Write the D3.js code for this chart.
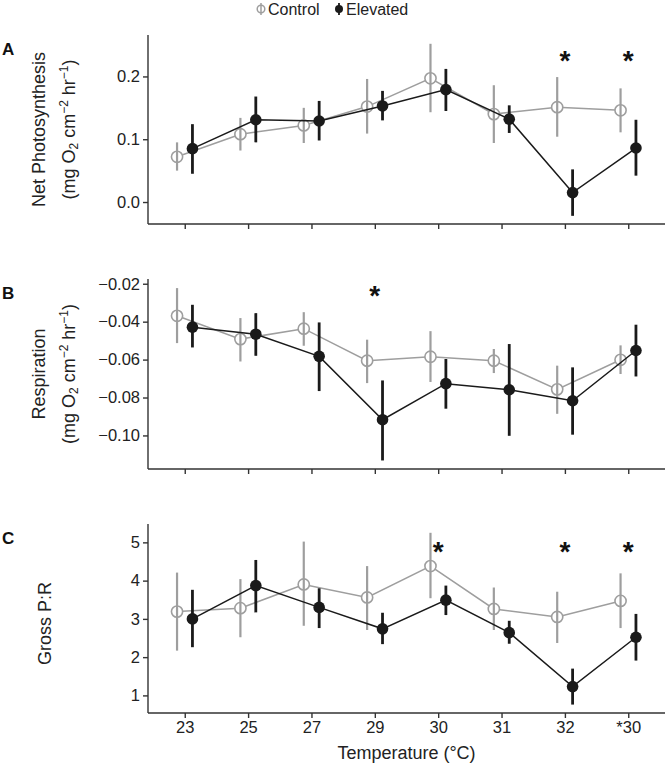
<!DOCTYPE html>
<html>
<head>
<meta charset="utf-8">
<script src="https://cdn.jsdelivr.net/npm/d3@7"></script>
<style>
  html, body { margin: 0; padding: 0; background: #fff; }
  svg { display: block; font-family: "Liberation Sans", Arial, sans-serif; }
</style>
</head>
<body>
<svg id="chart" width="667" height="763"></svg>
<script>
// ---------- data ----------
const categories = ["23", "25", "27", "29", "30", "31", "32", "*30"];
const seriesNames = ["Control", "Elevated"];

// Panel A: Net photosynthesis
const netPhotoControl     = [0.072, 0.108, 0.122, 0.152, 0.197, 0.140, 0.151, 0.146];
const netPhotoControlLo   = [0.050, 0.082, 0.094, 0.109, 0.143, 0.094, 0.104, 0.111];
const netPhotoControlHi   = [0.095, 0.134, 0.150, 0.196, 0.252, 0.186, 0.199, 0.181];
const netPhotoElevated    = [0.085, 0.131, 0.129, 0.153, 0.179, 0.132, 0.015, 0.086];
const netPhotoElevatedLo  = [0.045, 0.095, 0.098, 0.130, 0.145, 0.110, -0.022, 0.042];
const netPhotoElevatedHi  = [0.124, 0.168, 0.161, 0.177, 0.212, 0.154, 0.052, 0.131];
const netPhotoStars       = ["32", "*30"];
const netPhotoStarY       = 0.234;
const netPhotoTicks       = [0.0, 0.1, 0.2];

// Panel B: Respiration
const respControl     = [-0.0369, -0.0492, -0.0437, -0.0606, -0.0585, -0.0606, -0.0757, -0.0601];
const respControlLo   = [-0.0513, -0.0610, -0.0527, -0.0724, -0.0718, -0.0671, -0.0886, -0.0676];
const respControlHi   = [-0.0223, -0.0381, -0.0350, -0.0495, -0.0450, -0.0544, -0.0632, -0.0525];
const respElevated    = [-0.0429, -0.0466, -0.0583, -0.0917, -0.0727, -0.0759, -0.0817, -0.0552];
const respElevatedLo  = [-0.0536, -0.0580, -0.0766, -0.1132, -0.0859, -0.1002, -0.0996, -0.0689];
const respElevatedHi  = [-0.0311, -0.0355, -0.0404, -0.0710, -0.0597, -0.0518, -0.0641, -0.0416];
const respStars       = ["29"];
const respStarY       = -0.0232;
const respTicks       = [-0.10, -0.08, -0.06, -0.04, -0.02];

// Panel C: Gross P:R
const prControl     = [3.19, 3.28, 3.90, 3.56, 4.38, 3.26, 3.05, 3.47];
const prControlLo   = [2.17, 2.52, 2.82, 2.71, 3.54, 2.71, 2.37, 2.76];
const prControlHi   = [4.21, 4.04, 5.02, 4.38, 5.25, 3.82, 3.71, 4.19];
const prElevated    = [3.00, 3.87, 3.30, 2.74, 3.49, 2.64, 1.23, 2.52];
const prElevatedLo  = [2.26, 3.17, 2.76, 2.34, 3.10, 2.35, 0.76, 1.91];
const prElevatedHi  = [3.76, 4.54, 3.80, 3.16, 3.87, 2.95, 1.70, 3.13];
const prStars       = ["30", "32", "*30"];
const prStarY       = 4.90;
const prTicks       = [1, 2, 3, 4, 5];

const xAxisTitle = "Temperature (°C)";

// ---------- layout ----------
const svg = d3.select("#chart");
const left = 148, right = 665;
const colors = { Control: "#9e9e9e", Elevated: "#1a1a1a" };
const dodge = 7.7;

const x = d3.scalePoint().domain(categories).range([left, right]).padding(0.58);

const panels = [
  { letter: "A", top: 35, bottom: 224, domain: [-0.035, 0.266], ticks: netPhotoTicks, fmt: d3.format(".1f"),
    title: ["Net Photosynthesis", "unit"], ctrl: [netPhotoControl, netPhotoControlLo, netPhotoControlHi],
    elev: [netPhotoElevated, netPhotoElevatedLo, netPhotoElevatedHi], stars: netPhotoStars, starY: netPhotoStarY, xLabels: false },
  { letter: "B", top: 279, bottom: 469, domain: [-0.1177, -0.0175], ticks: respTicks, fmt: d3.format(".2f"),
    title: ["Respiration", "unit"], ctrl: [respControl, respControlLo, respControlHi],
    elev: [respElevated, respElevatedLo, respElevatedHi], stars: respStars, starY: respStarY, xLabels: false },
  { letter: "C", top: 524, bottom: 713, domain: [0.54, 5.48], ticks: prTicks, fmt: d3.format("d"),
    title: ["Gross P:R"], ctrl: [prControl, prControlLo, prControlHi],
    elev: [prElevated, prElevatedLo, prElevatedHi], stars: prStars, starY: prStarY, xLabels: true }
];

const fontSize = 16.5;

panels.forEach(p => {
  const y = d3.scaleLinear().domain(p.domain).range([p.bottom, p.top]);
  const g = svg.append("g");

  // axes
  const yAxis = d3.axisLeft(y).tickValues(p.ticks).tickFormat(p.fmt).tickSize(5).tickSizeOuter(0).tickPadding(3);
  const ya = g.append("g").attr("transform", `translate(${left},0)`).call(yAxis);
  const xAxis = d3.axisBottom(x).tickSize(5).tickSizeOuter(0).tickPadding(3);
  if (!p.xLabels) xAxis.tickFormat(() => "");
  const xa = g.append("g").attr("transform", `translate(0,${p.bottom})`).call(xAxis);
  [ya, xa].forEach(a => {
    a.selectAll("path.domain").attr("stroke", "#333").attr("stroke-width", 1.4);
    a.selectAll(".tick line").attr("stroke", "#333").attr("stroke-width", 1.4);
    a.selectAll(".tick text").attr("fill", "#222").style("font-size", fontSize + "px")
      .style("font-family", "'Liberation Sans', Arial, sans-serif");
  });
  // make y domain reach the x axis corner
  ya.select("path.domain").attr("d", `M0,${p.top}V${p.bottom}`);
  xa.select("path.domain").attr("d", `M${left},0H${right}`);

  // panel letter
  g.append("text").attr("x", 2).attr("y", p.top + 20).text(p.letter)
    .style("font-size", "17px").style("font-weight", "bold").attr("fill", "#111");

  // y titles
  const cy = (p.top + p.bottom) / 2;
  if (p.title.length === 2) {
    g.append("text").attr("transform", `translate(45,${cy}) rotate(-90)`).attr("text-anchor", "middle")
      .style("font-size", "18px").attr("fill", "#222").text(p.title[0]);
    const t = g.append("text").attr("transform", `translate(75,${cy}) rotate(-90)`).attr("text-anchor", "middle")
      .style("font-size", "18px").attr("fill", "#222");
    t.append("tspan").text("(mg O");
    t.append("tspan").attr("baseline-shift", "-25%").style("font-size", "12px").text("2");
    t.append("tspan").text(" cm");
    t.append("tspan").attr("baseline-shift", "super").style("font-size", "12px").text("\u22122");
    t.append("tspan").text(" hr");
    t.append("tspan").attr("baseline-shift", "super").style("font-size", "12px").text("\u22121");
    t.append("tspan").text(")");
  } else {
    g.append("text").attr("transform", `translate(51,${cy + 5}) rotate(-90)`).attr("text-anchor", "middle")
      .style("font-size", "18px").attr("fill", "#222").text(p.title[0]);
  }

  const series = [
    { name: "Control", vals: p.ctrl, off: -dodge },
    { name: "Elevated", vals: p.elev, off: dodge }
  ];
  series.forEach(s => {
    const pts = categories.map((c, i) => ({ c, v: s.vals[0][i], lo: s.vals[1][i], hi: s.vals[2][i] }));
    const col = colors[s.name];
    const isCtrl = s.name === "Control";
    g.append("path").datum(pts)
      .attr("d", d3.line().x(d => x(d.c) + s.off).y(d => y(d.v)))
      .attr("fill", "none").attr("stroke", col).attr("stroke-width", 1.5);
    if (isCtrl) {
      g.selectAll(null).data(pts).join("circle")
        .attr("cx", d => x(d.c) + s.off).attr("cy", d => y(d.v)).attr("r", 5.6)
        .attr("fill", "#fff").attr("stroke", col).attr("stroke-width", 1.6);
    }
    g.selectAll(null).data(pts).join("line")
      .attr("x1", d => x(d.c) + s.off).attr("x2", d => x(d.c) + s.off)
      .attr("y1", d => y(d.lo)).attr("y2", d => y(d.hi))
      .attr("stroke", col).attr("stroke-width", isCtrl ? 2.2 : 2.8);
    if (!isCtrl) {
      g.selectAll(null).data(pts).join("circle")
        .attr("cx", d => x(d.c) + s.off).attr("cy", d => y(d.v)).attr("r", 5.8)
        .attr("fill", col);
    }
  });

  // significance stars
  g.selectAll(null).data(p.stars).join("text")
    .attr("x", d => x(d)).attr("y", y(p.starY) + 15)
    .attr("text-anchor", "middle").style("font-size", "28px").style("font-weight", "bold")
    .attr("fill", "#111").text("*");
});

// x axis title
svg.append("text").attr("x", (left + right) / 2).attr("y", 759).attr("text-anchor", "middle")
  .style("font-size", "18px").attr("fill", "#222").text(xAxisTitle);

// legend
const leg = svg.append("g").attr("transform", "translate(0,9)");
const legItems = [
  { name: "Control", sx: 261, tx: 268 },
  { name: "Elevated", sx: 339, tx: 346 }
];
legItems.forEach(it => {
  const col = colors[it.name];
  if (it.name === "Control") {
    leg.append("circle").attr("cx", it.sx).attr("cy", 0).attr("r", 3.8)
      .attr("fill", "#fff").attr("stroke", col).attr("stroke-width", 1.5);
    leg.append("line").attr("x1", it.sx).attr("x2", it.sx).attr("y1", -6).attr("y2", 6)
      .attr("stroke", col).attr("stroke-width", 1.5);
  } else {
    leg.append("line").attr("x1", it.sx).attr("x2", it.sx).attr("y1", -6).attr("y2", 6)
      .attr("stroke", col).attr("stroke-width", 1.8);
    leg.append("circle").attr("cx", it.sx).attr("cy", 0).attr("r", 4).attr("fill", col);
  }
  leg.append("text").attr("x", it.tx).attr("y", 5.5).style("font-size", "16px").attr("fill", "#222").text(it.name);
});
</script>
</body>
</html>
